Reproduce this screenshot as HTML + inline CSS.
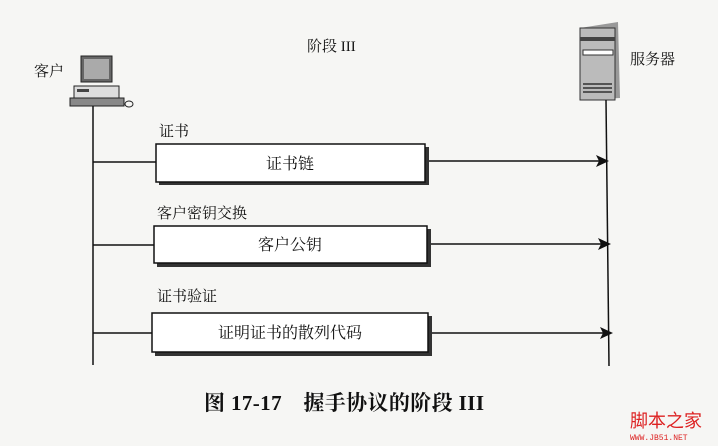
<!DOCTYPE html>
<html><head><meta charset="utf-8"><style>
html,body{margin:0;padding:0;background:#f6f6f4;}
svg{display:block;}
text{font-family:"Liberation Serif","Noto Serif CJK SC",serif;fill:#111;}
</style></head><body>
<svg width="718" height="446" viewBox="0 0 718 446" xmlns="http://www.w3.org/2000/svg">
<rect width="718" height="446" fill="#f6f6f4"/>
<text x="307" y="51" font-size="15">阶段 III</text>
<text x="34" y="76" font-size="15">客户</text>
<text x="630" y="64" font-size="15">服务器</text>
<rect x="81" y="56" width="31" height="26" fill="#666" stroke="#222"/>
<rect x="84" y="59" width="25" height="20" fill="#aaa"/>
<rect x="74" y="86" width="45" height="12" fill="#ddd" stroke="#222"/>
<rect x="77" y="89" width="12" height="3" fill="#444"/>
<rect x="70" y="98" width="54" height="8" fill="#888" stroke="#222"/>
<ellipse cx="129" cy="104" rx="4" ry="3" fill="none" stroke="#222"/>
<polygon points="580,28 618,22 620,98 582,100" fill="#999"/>
<rect x="580" y="28" width="35" height="72" fill="#bbb" stroke="#333"/>
<rect x="580" y="37" width="35" height="4" fill="#444"/>
<rect x="583" y="50" width="30" height="5" fill="#fff" stroke="#333"/>
<line x1="583" y1="84" x2="612" y2="84" stroke="#333" stroke-width="1.5"/>
<line x1="583" y1="88" x2="612" y2="88" stroke="#333" stroke-width="1.5"/>
<line x1="583" y1="92" x2="612" y2="92" stroke="#333" stroke-width="1.5"/>
<line x1="93" y1="106" x2="93" y2="365" stroke="#111" stroke-width="1.5"/>
<line x1="606" y1="100" x2="609" y2="366" stroke="#111" stroke-width="1.5"/>
<g stroke="#111" stroke-width="1.5">
<line x1="93" y1="162" x2="156" y2="162"/>
<line x1="426" y1="161" x2="600" y2="161"/>
<line x1="93" y1="245" x2="154" y2="245"/>
<line x1="428" y1="244" x2="602" y2="244"/>
<line x1="93" y1="333" x2="152" y2="333"/>
<line x1="430" y1="333" x2="604" y2="333"/>
</g>
<polygon points="596,155 609,161 596,167 599,161" fill="#111"/>
<polygon points="598,238 611,244 598,250 601,244" fill="#111"/>
<polygon points="600,327 613,333 600,339 603,333" fill="#111"/>
<rect x="159" y="147" width="270" height="38" fill="#333"/>
<rect x="156" y="144" width="269" height="38" fill="#fff" stroke="#111" stroke-width="1.5"/>
<rect x="157" y="229" width="274" height="38" fill="#333"/>
<rect x="154" y="226" width="273" height="37" fill="#fff" stroke="#111" stroke-width="1.5"/>
<rect x="155" y="316" width="277" height="40" fill="#333"/>
<rect x="152" y="313" width="276" height="39" fill="#fff" stroke="#111" stroke-width="1.5"/>
<text x="159" y="136" font-size="15">证书</text>
<text x="157" y="218" font-size="15">客户密钥交换</text>
<text x="157" y="301" font-size="15">证书验证</text>
<text x="290" y="169" font-size="16" text-anchor="middle">证书链</text>
<text x="290" y="250" font-size="16" text-anchor="middle">客户公钥</text>
<text x="290" y="338" font-size="16" text-anchor="middle">证明证书的散列代码</text>
<text x="204" y="410" font-size="21" font-weight="bold" textLength="280" lengthAdjust="spacing">图 17-17　握手协议的阶段 III</text>
<text x="630" y="427" font-size="18" style="fill:#d22;font-family:'Noto Sans CJK SC',sans-serif">脚本之家</text>
<text x="630" y="440" font-size="8" style="fill:#d22;font-family:'Liberation Mono',monospace">WWW.JB51.NET</text>
</svg>
</body></html>
